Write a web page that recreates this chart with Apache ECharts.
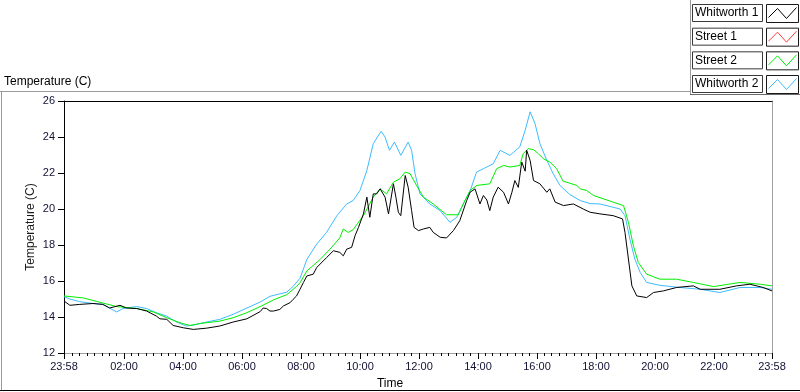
<!DOCTYPE html>
<html><head><meta charset="utf-8">
<script src="https://cdn.jsdelivr.net/npm/echarts@6/dist/echarts.min.js"></script>
<style>html,body{margin:0;padding:0;background:#fff}#c{width:800px;height:392px}</style>
</head><body><div id="c"></div>
<script>
// time values: minutes since 00:00 (-2 = 23:58 previous day, 1438 = 23:58)
const majorTicks = [-2, 120, 240, 360, 480, 600, 720, 840, 960, 1080, 1200, 1320, 1438];
const minorTicks = [];
for (let m = 15; m < 1438; m += 15) if (m % 120 !== 0) minorTicks.push(m);

const seriesNames = ['Whitworth 1', 'Street 1', 'Street 2', 'Whitworth 2'];
const seriesColors = ['#000000', '#ff3b3b', '#00ee00', '#3dbcff'];

const whitworth1T = [-2,10,30,57,77,91,112,125,146,166,186,193,207,220,241,261,288,315,342,370,397,403,410,417,424,437,444,458,464,471,478,485,492,505,512,532,546,559,566,573,583,590,597,607,614,620,627,634,641,651,658,668,673,678,683,692,698,705,710,719,729,742,749,763,776,790,803,817,824,834,844,851,858,864,871,881,892,902,909,915,922,929,936,939,946,953,966,980,986,997,1014,1034,1054,1068,1088,1115,1134,1139,1146,1153,1163,1183,1197,1217,1244,1278,1292,1332,1366,1393,1420,1438];
const whitworth1V = [14.89,14.65,14.7,14.75,14.7,14.5,14.65,14.5,14.47,14.33,14.05,13.9,13.87,13.53,13.4,13.31,13.38,13.5,13.72,13.9,14.3,14.5,14.47,14.33,14.33,14.42,14.61,14.8,14.98,15.17,15.54,15.92,16.28,16.38,16.75,17.3,17.68,17.59,17.4,17.77,17.87,18.52,18.98,19.73,20.66,19.54,20.84,20.84,21.12,20.66,19.73,21.4,20.66,19.82,19.63,21.86,21.21,19.91,18.98,18.8,18.89,18.98,18.7,18.43,18.39,18.8,19.35,20.47,20.93,21.12,20.28,20.75,20.5,19.91,20.66,21.21,20.93,20.28,20.93,21.58,21.2,22.61,22.1,23.26,22.7,21.58,21.4,20.93,21.12,20.38,20.19,20.28,20.0,19.82,19.73,19.63,19.45,18.7,17.22,15.73,15.17,15.08,15.36,15.45,15.64,15.73,15.54,15.54,15.73,15.82,15.64,15.45];

const street1T = [];
const street1V = [];

const street2T = [-2,37,64,85,105,146,180,207,234,254,275,315,342,370,397,424,451,471,478,492,519,539,559,566,576,586,607,627,641,654,668,681,692,702,715,729,749,776,800,810,824,838,864,878,892,905,925,932,942,953,963,973,986,1000,1013,1041,1048,1061,1075,1115,1136,1146,1156,1166,1183,1210,1244,1278,1319,1373,1414,1438];
const street2V = [15.17,15.06,14.87,14.72,14.58,14.47,14.28,13.96,13.68,13.53,13.64,13.77,13.96,14.24,14.58,14.95,15.24,15.7,15.9,16.56,17.2,17.77,18.4,18.89,18.7,18.85,19.63,20.66,21.12,20.84,21.49,21.68,22.05,21.96,21.31,20.66,20.28,19.68,19.68,20.28,21.03,21.31,21.4,22.24,22.42,22.33,22.42,23.07,23.35,23.3,23.07,22.79,22.61,22.24,21.55,21.31,21.12,21.03,20.75,20.38,20.19,19.26,17.96,17.03,16.38,16.1,16.1,15.92,15.69,15.92,15.82,15.73];

const whitworth2T = [-2,10,30,57,77,105,118,146,166,186,207,227,247,261,288,315,342,370,397,417,451,464,478,492,512,532,553,573,586,600,614,627,643,651,660,670,683,698,705,712,722,742,763,783,797,810,824,837,851,871,885,905,925,936,946,956,966,980,993,1007,1027,1048,1068,1088,1129,1139,1149,1159,1170,1183,1210,1251,1292,1332,1373,1414,1438];
const whitworth2V = [15.13,15.0,14.85,14.75,14.7,14.28,14.47,14.58,14.47,14.24,14.05,13.72,13.5,13.55,13.72,13.87,14.15,14.5,14.83,15.15,15.38,15.7,16.15,17.2,18.05,18.7,19.63,20.28,20.47,21.03,22.14,23.63,24.32,24.0,23.26,23.72,22.98,23.72,23.26,21.96,20.84,20.28,19.91,19.26,19.54,20.28,21.0,22.05,22.24,22.51,23.26,22.98,23.45,24.37,25.4,24.74,23.63,22.7,21.96,21.3,20.8,20.47,20.3,20.28,20.0,19.63,18.33,17.22,16.47,15.92,15.76,15.64,15.54,15.36,15.64,15.64,15.54];

function pair(T, V) { return T.map((t, i) => [t, V[i]]); }
function fmtTime(v) {
  if (v < 0 || v >= 1438) return '23:58';
  const h = Math.floor(v / 60), m = Math.round(v % 60);
  return String(h).padStart(2, '0') + ':' + String(m).padStart(2, '0');
}

const FONT = '"Liberation Sans", Arial, sans-serif';
const LBL = '#111133';
const chart = echarts.init(document.getElementById('c'), null, { renderer: 'canvas' });

const dataSets = [pair(whitworth1T, whitworth1V), pair(street1T, street1V), pair(street2T, street2V), pair(whitworth2T, whitworth2V)];
const drawOrder = [3, 2, 1, 0];
const series = drawOrder.map((k, j) => ({
  name: seriesNames[k], type: 'line', data: dataSets[k], showSymbol: false, symbol: 'none',
  lineStyle: { color: seriesColors[k], width: 1 }, itemStyle: { color: seriesColors[k] },
  z: 2 + j, xAxisIndex: 0, yAxisIndex: 0, animation: false
}));

// legend (boxed, LabVIEW style)
const legendGraphics = [];
seriesNames.forEach((n, i) => {
  const y = 4 + i * 23.67;
  legendGraphics.push({ type: 'rect', shape: { x: 692.5, y: y + 0.5, width: 70, height: 17 }, style: { fill: '#fff', stroke: '#3a3a3a', lineWidth: 1 } });
  legendGraphics.push({ type: 'text', x: 695, y: y + 9, style: { text: n, font: '12px ' + FONT, fill: '#000', textVerticalAlign: 'middle', verticalAlign: 'middle' } });
  legendGraphics.push({ type: 'rect', shape: { x: 766.5, y: y + 0.5, width: 32, height: 18 }, style: { fill: '#fff', stroke: '#1a1a1a', lineWidth: 1 } });
  legendGraphics.push({ type: 'polyline', shape: { points: [[768.5, y + 13.5], [777.5, y + 4.5], [786.5, y + 14.5], [796.5, y + 3.5]] }, style: { stroke: seriesColors[i], lineWidth: 1, fill: null } });
});

const option = {
  animation: false,
  backgroundColor: '#fff',
  grid: { left: 64, right: 28, top: 101, bottom: 39, show: false },
  xAxis: [
    { type: 'value', min: -2, max: 1438, position: 'bottom',
      axisLine: { show: true, onZero: false, lineStyle: { color: '#a0a0a0', width: 1 } },
      axisTick: { show: true, customValues: majorTicks, length: 6, lineStyle: { color: '#000' } },
      axisLabel: { show: true, customValues: majorTicks, formatter: fmtTime, fontSize: 11, fontFamily: FONT, color: LBL, margin: 8 },
      splitLine: { show: false } },
    { type: 'value', min: -2, max: 1438, position: 'bottom',
      axisLine: { show: false, onZero: false },
      axisTick: { show: true, customValues: minorTicks, length: 3, lineStyle: { color: '#000' } },
      axisLabel: { show: false }, splitLine: { show: false } },
    { type: 'value', min: -2, max: 1438, position: 'top',
      axisLine: { show: true, onZero: false, lineStyle: { color: '#000', width: 1 } },
      axisTick: { show: false }, axisLabel: { show: false }, splitLine: { show: false } }
  ],
  yAxis: [
    { type: 'value', min: 12, max: 26, interval: 2, position: 'left',
      axisLine: { show: true, onZero: false, lineStyle: { color: '#000', width: 1 } },
      axisTick: { show: true, length: 6, lineStyle: { color: '#000' } },
      axisLabel: { fontSize: 11, fontFamily: FONT, color: LBL, margin: 9 },
      splitLine: { show: false },
      name: 'Temperature (C)', nameLocation: 'middle', nameGap: 27, nameMoveOverlap: false,
      nameTextStyle: { fontSize: 12, fontFamily: FONT, color: '#1a1a1a' } },
    { type: 'value', min: 12, max: 26, position: 'right',
      axisLine: { show: true, onZero: false, lineStyle: { color: '#a0a0a0', width: 1 } },
      axisTick: { show: false }, axisLabel: { show: false }, splitLine: { show: false } }
  ],
  series: series,
  graphic: [
    { type: 'line', shape: { x1: 0, y1: 91.5, x2: 690, y2: 91.5 }, style: { stroke: '#9a9a9a', lineWidth: 1 } },
    { type: 'line', shape: { x1: 1.5, y1: 91.5, x2: 1.5, y2: 390 }, style: { stroke: '#9a9a9a', lineWidth: 1 } },
    { type: 'line', shape: { x1: 0, y1: 390.5, x2: 800, y2: 390.5 }, style: { stroke: '#000', lineWidth: 1 } },
    { type: 'line', shape: { x1: 690.5, y1: 0, x2: 690.5, y2: 95 }, style: { stroke: '#9a9a9a', lineWidth: 1 } },
    { type: 'line', shape: { x1: 690, y1: 94.5, x2: 800, y2: 94.5 }, style: { stroke: '#6a6a6a', lineWidth: 1 } },
    { type: 'text', x: 4, y: 82, style: { text: 'Temperature (C)', font: '12px ' + FONT, fill: '#000', verticalAlign: 'middle', textVerticalAlign: 'middle' } },
    { type: 'text', x: 390, y: 384, style: { text: 'Time', font: '12px ' + FONT, fill: '#000', align: 'center', textAlign: 'center', verticalAlign: 'middle', textVerticalAlign: 'middle' } }
  ].concat(legendGraphics)
};
chart.setOption(option);
</script>
</body></html>
